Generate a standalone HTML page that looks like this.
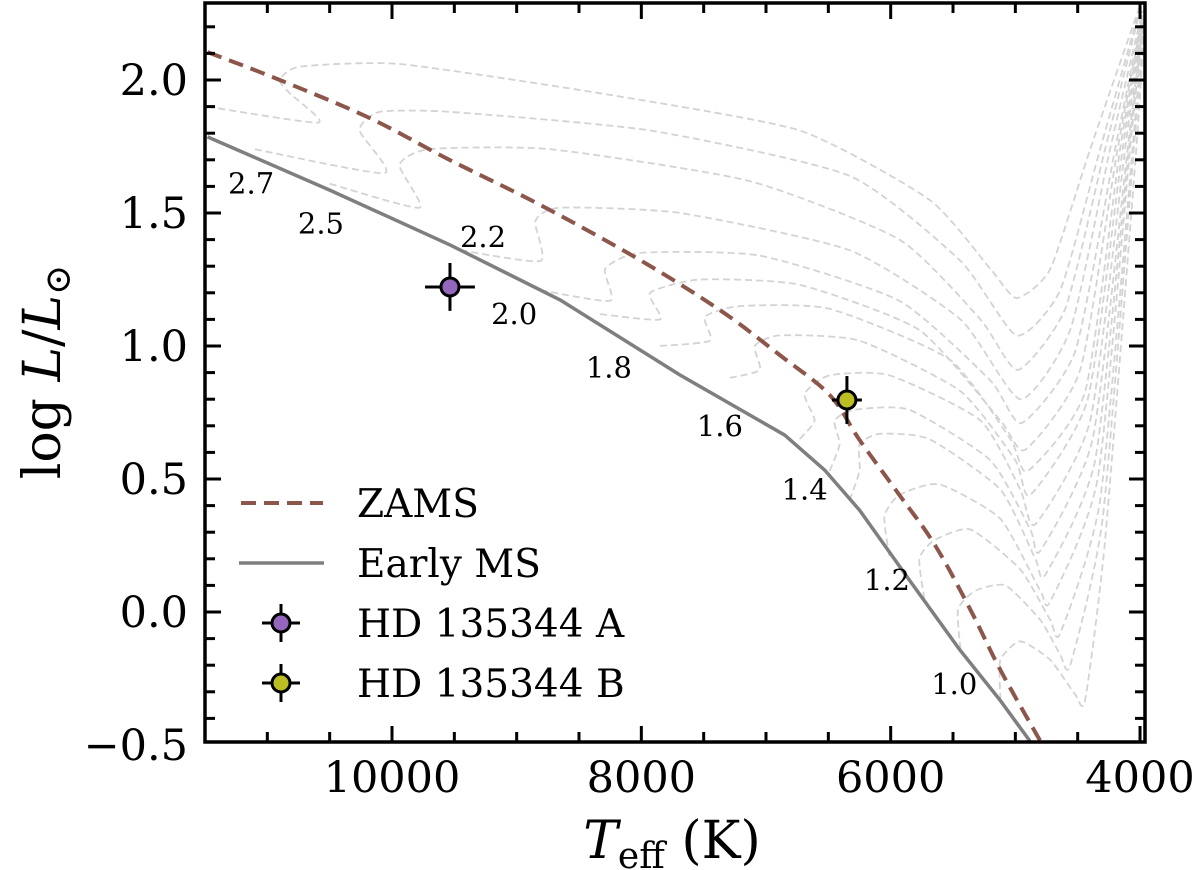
<!DOCTYPE html>
<html><head><meta charset="utf-8">
<style>
html,body{margin:0;padding:0;background:#fff;}
svg{display:block;font-family:"DejaVu Serif","Liberation Serif",serif;}
</style></head>
<body>
<svg id="chart" width="1200" height="870" viewBox="0 0 1200 870" xmlns="http://www.w3.org/2000/svg">
<defs><clipPath id="clip"><rect x="205" y="3" width="940" height="739"/></clipPath></defs>
<g id="tracks" clip-path="url(#clip)"></g>
<g id="main" clip-path="url(#clip)"></g>
<g id="labels"></g>
<g id="axes"></g>
<g id="legend"></g>
<text x="60" y="372" font-size="52" text-anchor="middle" transform="rotate(-90 60 372)">log <tspan font-style="italic">L</tspan>/<tspan font-style="italic">L</tspan><tspan font-size="36" dy="10">⊙</tspan></text>
<text x="672" y="858" font-size="52" text-anchor="middle"><tspan font-style="italic">T</tspan><tspan font-size="36" dy="10">eff</tspan><tspan dy="-10"> (K)</tspan></text>
</svg>
<script>
const xTicks = [10000, 8000, 6000, 4000];
const yTicks = [-0.5, 0.0, 0.5, 1.0, 1.5, 2.0];
const yTickLabels = ["\u22120.5", "0.0", "0.5", "1.0", "1.5", "2.0"];
const zamsT = [11480,10900,10180,9535,8810,8010,7370,6890,6490,6250,5930,5645,5360,5120,4800];
const zamsL = [2.105,2.0,1.857,1.699,1.53,1.323,1.135,0.966,0.816,0.647,0.44,0.252,0.008,-0.218,-0.485];
const emsT = [11480,10500,9535,8650,7690,6850,6530,6250,5850,5445,5124,4883];
const emsL = [1.786,1.586,1.38,1.173,0.891,0.665,0.534,0.383,0.12,-0.143,-0.331,-0.485];
const massLabels = ["2.7","2.5","2.2","2.0","1.8","1.6","1.4","1.2","1.0"];
const massT = [11130,10570,9270,9020,8260,7370,6690,6030,5490];
const massL = [1.61,1.46,1.41,1.12,0.92,0.70,0.46,0.12,-0.27];
const starNames = ["HD 135344 A","HD 135344 B"];
const starT = [9535, 6351];
const starL = [1.222, 0.797];
const starTerr = [200, 120];
const starLerr = [0.09, 0.09];
const starColors = ["#9467bd","#bcbd22"];
const tracks = [
[[11480,1.90],[10590,1.84],[10820,1.95],[10900,2.00],[10740,2.05],[9940,2.06],[8330,1.95],[6730,1.81],[5690,1.55],[5200,1.29],[4990,1.18],[4720,1.29],[4400,1.74],[4000,2.28]],
[[11100,1.74],[10060,1.65],[10260,1.81],[10100,1.88],[9530,1.88],[7930,1.81],[6330,1.64],[5440,1.32],[4990,1.04],[4640,1.21],[4320,1.74],[4000,2.27]],
[[10500,1.61],[9780,1.52],[9940,1.68],[9700,1.74],[8730,1.74],[7130,1.62],[5930,1.40],[5280,1.10],[4980,0.91],[4600,1.14],[4280,1.74],[4000,2.26]],
[[9450,1.36],[8810,1.32],[8850,1.47],[8650,1.52],[7690,1.50],[6330,1.36],[5440,1.10],[4960,0.80],[4560,1.06],[4240,1.74],[3980,2.26]],
[[8810,1.21],[8250,1.17],[8290,1.29],[8010,1.35],[7050,1.34],[5930,1.17],[5200,0.87],[4950,0.71],[4520,0.98],[4200,1.74],[3980,2.25]],
[[8330,1.12],[7850,1.10],[7930,1.20],[7530,1.25],[6730,1.23],[5770,1.06],[5120,0.72],[4920,0.61],[4480,0.91],[4180,1.74],[3980,2.24]],
[[7850,1.00],[7450,1.02],[7490,1.11],[7210,1.15],[6490,1.14],[5530,0.95],[5040,0.65],[4900,0.53],[4440,0.83],[4160,1.74],[3980,2.23]],
[[7290,0.88],[7050,0.91],[7090,1.00],[6890,1.04],[6250,1.02],[5440,0.83],[5000,0.57],[4880,0.44],[4420,0.80],[4140,1.74],[3980,2.23]],
[[6730,0.65],[6610,0.72],[6690,0.82],[6490,0.89],[6010,0.89],[5280,0.72],[4960,0.46],[4840,0.33],[4400,0.72],[4120,1.74],[3980,2.22]],
[[6490,0.53],[6410,0.63],[6450,0.72],[6290,0.76],[5850,0.76],[5200,0.57],[4880,0.31],[4800,0.23],[4380,0.65],[4100,1.74],[3980,2.21]],
[[6330,0.42],[6250,0.53],[6250,0.63],[6090,0.67],[5690,0.65],[5120,0.46],[4840,0.20],[4760,0.14],[4360,0.57],[4090,1.74],[3980,2.20]],
[[6010,0.21],[6050,0.36],[5930,0.44],[5610,0.48],[5120,0.35],[4800,0.08],[4720,0.04],[4340,0.50],[4080,1.74],[3980,2.20]],
[[5730,0.05],[5770,0.20],[5650,0.27],[5360,0.31],[4960,0.16],[4720,-0.03],[4640,-0.08],[4320,0.42],[4060,1.74],[3980,2.19]],
[[5440,-0.14],[5460,0.01],[5320,0.08],[5080,0.10],[4800,-0.03],[4640,-0.16],[4560,-0.20],[4300,0.35],[4050,1.74],[3970,2.18]],
[[5120,-0.33],[5120,-0.18],[4960,-0.11],[4720,-0.18],[4520,-0.31],[4440,-0.33],[4280,0.27],[4030,1.74],[3970,2.17]]
];

const NS = "http://www.w3.org/2000/svg";
const X0 = 392, XPER = 0.12467;
function xs(t){ return X0 + (10000 - t) * XPER; }
function ys(l){ return 612 - l * 266; }
function mk(tag, attrs, parent){ const e=document.createElementNS(NS,tag); for(const k in attrs) e.setAttribute(k,attrs[k]); parent.appendChild(e); return e; }
function smooth(pts, k){
  k = k || 6;
  let d = "M"+pts[0][0].toFixed(1)+","+pts[0][1].toFixed(1);
  for(let i=0;i<pts.length-1;i++){
    const p0=pts[Math.max(0,i-1)], p1=pts[i], p2=pts[i+1], p3=pts[Math.min(pts.length-1,i+2)];
    const c1=[p1[0]+(p2[0]-p0[0])/k, p1[1]+(p2[1]-p0[1])/k];
    const c2=[p2[0]-(p3[0]-p1[0])/k, p2[1]-(p3[1]-p1[1])/k];
    d += " C"+c1[0].toFixed(1)+","+c1[1].toFixed(1)+" "+c2[0].toFixed(1)+","+c2[1].toFixed(1)+" "+p2[0].toFixed(1)+","+p2[1].toFixed(1);
  }
  return d;
}
const gT = document.getElementById("tracks");
tracks.forEach((tr,i)=>{
  const p = mk("path",{d:smooth(tr.map(q=>[xs(q[0]),ys(q[1])]),10),fill:"none",stroke:"#d3d3d3","stroke-width":"1.8","stroke-dasharray":"7,4"},gT);
  
  
});
const gM = document.getElementById("main");
const ems = mk("path",{d:"M"+emsT.map((t,i)=>xs(t).toFixed(1)+","+ys(emsL[i]).toFixed(1)).join(" L"),fill:"none",stroke:"#7f7f7f","stroke-width":"3.5"},gM);


const zams = mk("path",{d:smooth(zamsT.map((t,i)=>[xs(t),ys(zamsL[i])])),fill:"none",stroke:"#8c564b","stroke-width":"4","stroke-dasharray":"15,8"},gM);


function star(g,cx,cy,ex,ey,color){
  mk("line",{x1:cx-ex,y1:cy,x2:cx+ex,y2:cy,stroke:"#000","stroke-width":"3"},g);
  mk("line",{x1:cx,y1:cy-ey,x2:cx,y2:cy+ey,stroke:"#000","stroke-width":"3"},g);
  mk("circle",{cx:cx,cy:cy,r:"9",fill:color,stroke:"#000","stroke-width":"3"},g);
}
starT.forEach((t,i)=>{
  const g = mk("g",{},gM);
  
  
  const cx=xs(t), cy=ys(starL[i]);
  star(g,cx,cy,starTerr[i]*XPER,starLerr[i]*266,starColors[i]);
});
const gL = document.getElementById("labels");
massLabels.forEach((s,i)=>{
  const t = mk("text",{x:xs(massT[i]),y:ys(massL[i]),"font-size":"29","text-anchor":"middle","dominant-baseline":"central",fill:"#000"},gL);
  t.textContent = s;
  
  
});
const gA = document.getElementById("axes");
const L=205,R=1145,T=3,B=742;
for(let v=4000; v<=11500; v+=500){
  const x=xs(v); if(x<L||x>R) continue;
  const major = v%2000===0;
  const len = major?16:10;
  mk("line",{x1:x,y1:B,x2:x,y2:B-len,stroke:"#000","stroke-width":"3"},gA);
  mk("line",{x1:x,y1:T,x2:x,y2:T+len,stroke:"#000","stroke-width":"3"},gA);
}
for(let k=-5;k<=22;k++){
  const v=k/10, y=ys(v); if(y<T||y>B) continue;
  const major = k%5===0;
  const len = major?16:10;
  mk("line",{x1:L,y1:y,x2:L+len,y2:y,stroke:"#000","stroke-width":"3"},gA);
  mk("line",{x1:R,y1:y,x2:R-len,y2:y,stroke:"#000","stroke-width":"3"},gA);
}
xTicks.forEach(v=>{
  const t=mk("text",{x:xs(v),y:792,"font-size":"43","text-anchor":"middle"},gA);
  t.textContent=String(v);
  
  
});
yTicks.forEach((v,i)=>{
  const t=mk("text",{x:188,y:ys(v)+15,"font-size":"43","text-anchor":"end"},gA);
  t.textContent=yTickLabels[i];
  
  
});
const frame = mk("rect",{x:L,y:T,width:R-L,height:B-T,fill:"none",stroke:"#000","stroke-width":"3.5"},gA);


const gG = document.getElementById("legend");
const rows=[503,563,623,683];
const names=["ZAMS","Early MS"].concat(starNames);
mk("line",{x1:241,y1:rows[0],x2:323,y2:rows[0],stroke:"#8c564b","stroke-width":"4","stroke-dasharray":"15,8"},gG);
mk("line",{x1:239,y1:rows[1],x2:324,y2:rows[1],stroke:"#7f7f7f","stroke-width":"3.5"},gG);
star(gG,281,rows[2],19,19,starColors[0]);
star(gG,281,rows[3],19,19,starColors[1]);
names.forEach((n,i)=>{
  const t=mk("text",{x:357,y:rows[i]+14,"font-size":"39"},gG);
  t.textContent=n;
  
  
});
</script>
</body></html>
